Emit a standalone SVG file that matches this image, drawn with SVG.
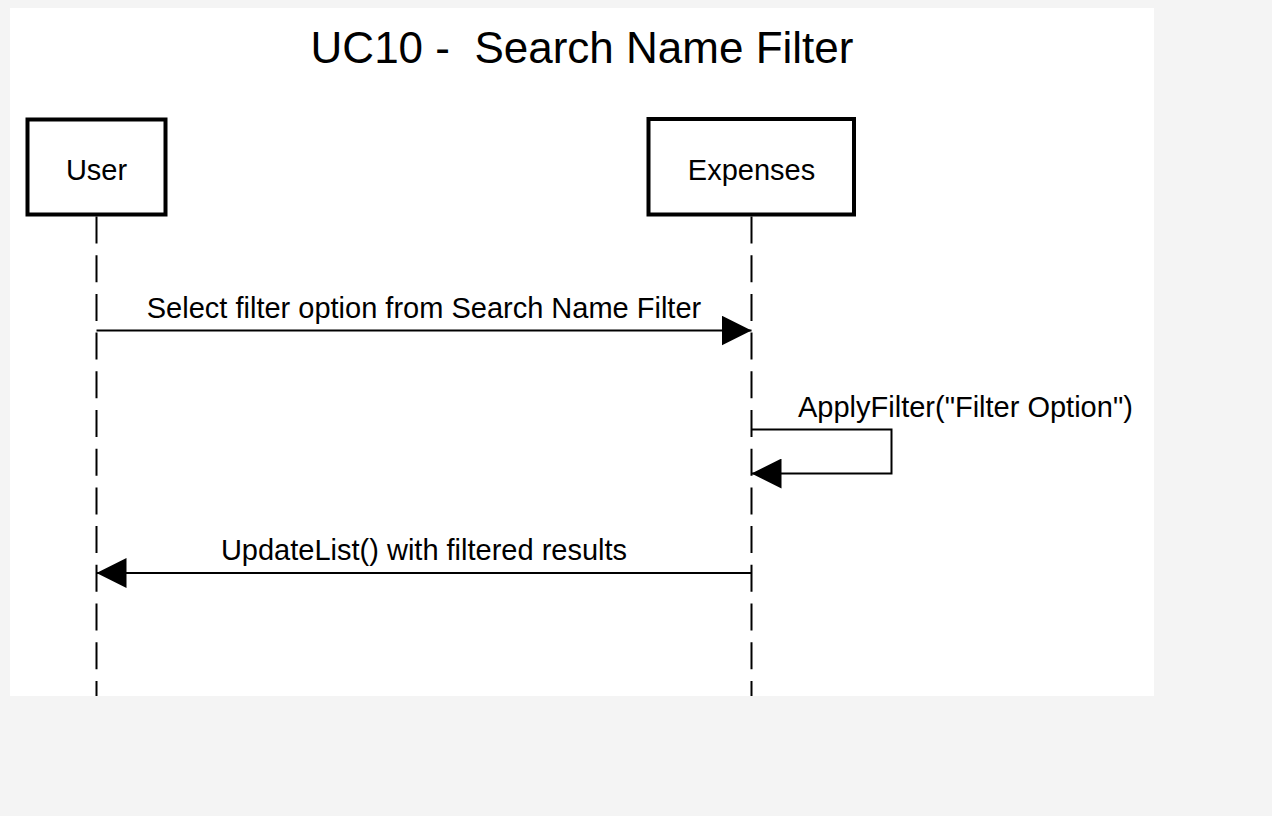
<svg xmlns="http://www.w3.org/2000/svg" width="1272" height="816" viewBox="0 0 1272 816">
  <style>
    .lbl { font-family: "Liberation Sans", Arial, Helvetica, sans-serif; fill: #000; }
    .box { fill: #fff; stroke: #000; stroke-width: 4; }
    .life { fill: none; stroke: #000; stroke-width: 2; stroke-dasharray: 27 11.7; }
    .msg { fill: none; stroke: #000; stroke-width: 2; marker-end: url(#arrow); }
  </style>
  <defs>
    <marker id="arrow" markerUnits="userSpaceOnUse" viewBox="0 0 30 30" refX="30" refY="15" markerWidth="30" markerHeight="30" orient="auto">
      <path d="M0,0 L30,15 L0,30 z" fill="#000"/>
    </marker>
  </defs>
  <rect x="0" y="0" width="1272" height="816" fill="#f4f4f4"/>
  <rect x="10" y="8" width="1144" height="688" fill="#ffffff"/>
  <text class="lbl" x="582" y="63" font-size="44" text-anchor="middle" xml:space="preserve">UC10 -  Search Name Filter</text>

  <g id="connectors">
    <line class="life" x1="96.5" y1="216.5" x2="96.5" y2="696"/>
    <line class="life" x1="751.5" y1="216.5" x2="751.5" y2="696"/>
    <path class="msg" d="M96.5,330.5 H751.5"/>
    <path class="msg" d="M751.5,429.5 H891.5 V473.5 H751.5"/>
    <path class="msg" d="M751.5,573 H96.5"/>
    <text class="lbl" x="424" y="318" font-size="29" text-anchor="middle">Select filter option from Search Name Filter</text>
    <text class="lbl" x="798" y="417" font-size="29">ApplyFilter("Filter Option")</text>
    <text class="lbl" x="424" y="560" font-size="29" text-anchor="middle">UpdateList() with filtered results</text>
  </g>

  <g id="user">
    <rect class="box" x="27.5" y="119.5" width="138" height="95"/>
    <text class="lbl" x="96.5" y="180" font-size="29" text-anchor="middle">User</text>
  </g>
  <g id="expenses">
    <rect class="box" x="648.5" y="119" width="205.5" height="95.5"/>
    <text class="lbl" x="751.5" y="180" font-size="29" text-anchor="middle">Expenses</text>
  </g>
</svg>
